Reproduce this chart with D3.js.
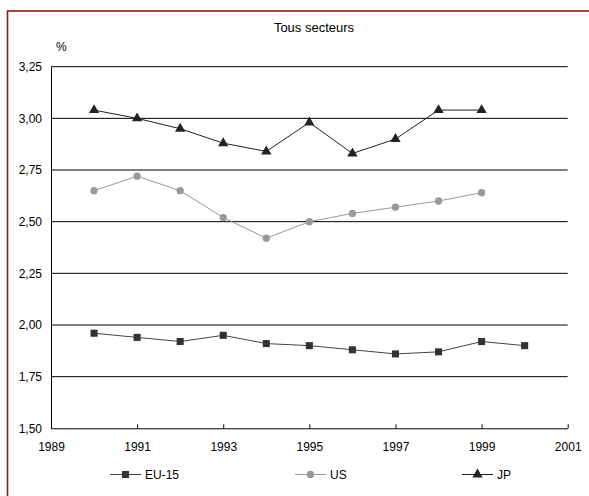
<!DOCTYPE html>
<html>
<head>
<meta charset="utf-8">
<script src="https://cdn.jsdelivr.net/npm/d3@7"></script>
<style>
  body { margin: 0; background: #fff; }
  svg { display: block; font-family: "Liberation Sans", Arial, sans-serif; }
</style>
</head>
<body>
<div id="chart"></div>
<script>
// values
var years = [1990, 1991, 1992, 1993, 1994, 1995, 1996, 1997, 1998, 1999, 2000];
var eu15  = [1.96, 1.94, 1.92, 1.95, 1.91, 1.90, 1.88, 1.86, 1.87, 1.92, 1.90];
var us    = [2.65, 2.72, 2.65, 2.52, 2.42, 2.50, 2.54, 2.57, 2.60, 2.64];
var jp    = [3.04, 3.00, 2.95, 2.88, 2.84, 2.98, 2.83, 2.90, 3.04, 3.04];
var xTicks = [1989, 1991, 1993, 1995, 1997, 1999, 2001];
var yTicks = [1.50, 1.75, 2.00, 2.25, 2.50, 2.75, 3.00, 3.25];

var series = [
  { name: "EU-15", values: eu15, color: "#333", line: "#444", shape: d3.symbolSquare, size: 50 },
  { name: "US",    values: us,   color: "#999", line: "#999", shape: d3.symbolCircle, size: 42 },
  { name: "JP",    values: jp,   color: "#222", line: "#222", shape: d3.symbolTriangle, size: 46 }
];

var width = 589, height = 496;
var plotLeft = 51, plotRight = 567.7, plotTop = 66.7, plotBottom = 428.3;

var svg = d3.select("#chart").append("svg")
    .attr("width", width)
    .attr("height", height);

// outer frame, cut off by the window on the right and bottom
svg.append("rect")
    .attr("x", 7.5).attr("y", 11)
    .attr("width", 700).attr("height", 700)
    .attr("fill", "none")
    .attr("stroke", "#8b1a1a")
    .attr("stroke-width", 1.6);

var x = d3.scaleLinear().domain([1989, 2001]).range([plotLeft, plotRight]);
var y = d3.scaleLinear().domain([1.5, 3.25]).range([plotBottom, plotTop]);

// grid lines
svg.append("g").selectAll("line")
  .data(yTicks.slice(1))
  .join("line")
    .attr("x1", plotLeft).attr("x2", plotRight)
    .attr("y1", function(d) { return y(d); })
    .attr("y2", function(d) { return y(d); })
    .attr("stroke", "#000")
    .attr("stroke-width", 1);

// y axis
var yAxis = svg.append("g")
    .attr("transform", "translate(" + plotLeft + ",0)")
    .call(d3.axisLeft(y).tickValues(yTicks).tickSize(0).tickPadding(9)
      .tickFormat(function(d) { return d3.format(".2f")(d).replace(".", ","); }));
yAxis.select(".domain").attr("stroke", "#000");
yAxis.selectAll("text").attr("font-size", 12).attr("fill", "#000")
    .attr("font-family", "Liberation Sans, Arial, sans-serif");

// x axis, ticks pointing up into the plot
var xAxis = svg.append("g")
    .attr("transform", "translate(0," + plotBottom + ")")
    .call(d3.axisBottom(x).tickValues(xTicks).tickSizeInner(-4).tickSizeOuter(0)
      .tickPadding(14).tickFormat(d3.format("d")));
xAxis.select(".domain").attr("stroke", "#000");
xAxis.selectAll("text").attr("font-size", 12).attr("fill", "#000")
    .attr("font-family", "Liberation Sans, Arial, sans-serif");

// titles
svg.append("text")
    .attr("x", 314).attr("y", 32)
    .attr("text-anchor", "middle")
    .attr("font-size", 13)
    .text("Tous secteurs");
svg.append("text")
    .attr("x", 56).attr("y", 51)
    .attr("font-size", 12)
    .text("%");

// lines and markers
var line = d3.line()
    .x(function(d, i) { return x(years[i]); })
    .y(function(d) { return y(d); });

series.forEach(function(s) {
  svg.append("path")
      .datum(s.values)
      .attr("fill", "none")
      .attr("stroke", s.line)
      .attr("stroke-width", 1)
      .attr("d", line);
  svg.append("g").selectAll("path")
    .data(s.values)
    .join("path")
      .attr("transform", function(d, i) {
        return "translate(" + x(years[i]) + "," + y(d) + ")";
      })
      .attr("d", d3.symbol().type(s.shape).size(s.size))
      .attr("fill", s.color);
});

// legend
var legendX = [110, 295, 462];
var legend = svg.append("g").selectAll("g")
  .data(series)
  .join("g")
    .attr("transform", function(d, i) { return "translate(" + legendX[i] + ",474.5)"; });
legend.append("line")
    .attr("x1", 0).attr("x2", 31)
    .attr("stroke", function(d) { return d.line; });
legend.append("path")
    .attr("transform", "translate(15.5,0)")
    .attr("d", function(d) { return d3.symbol().type(d.shape).size(d.size)(); })
    .attr("fill", function(d) { return d.color; });
legend.append("text")
    .attr("x", 35).attr("y", 4.5)
    .attr("font-size", 12)
    .text(function(d) { return d.name; });
</script>
</body>
</html>
